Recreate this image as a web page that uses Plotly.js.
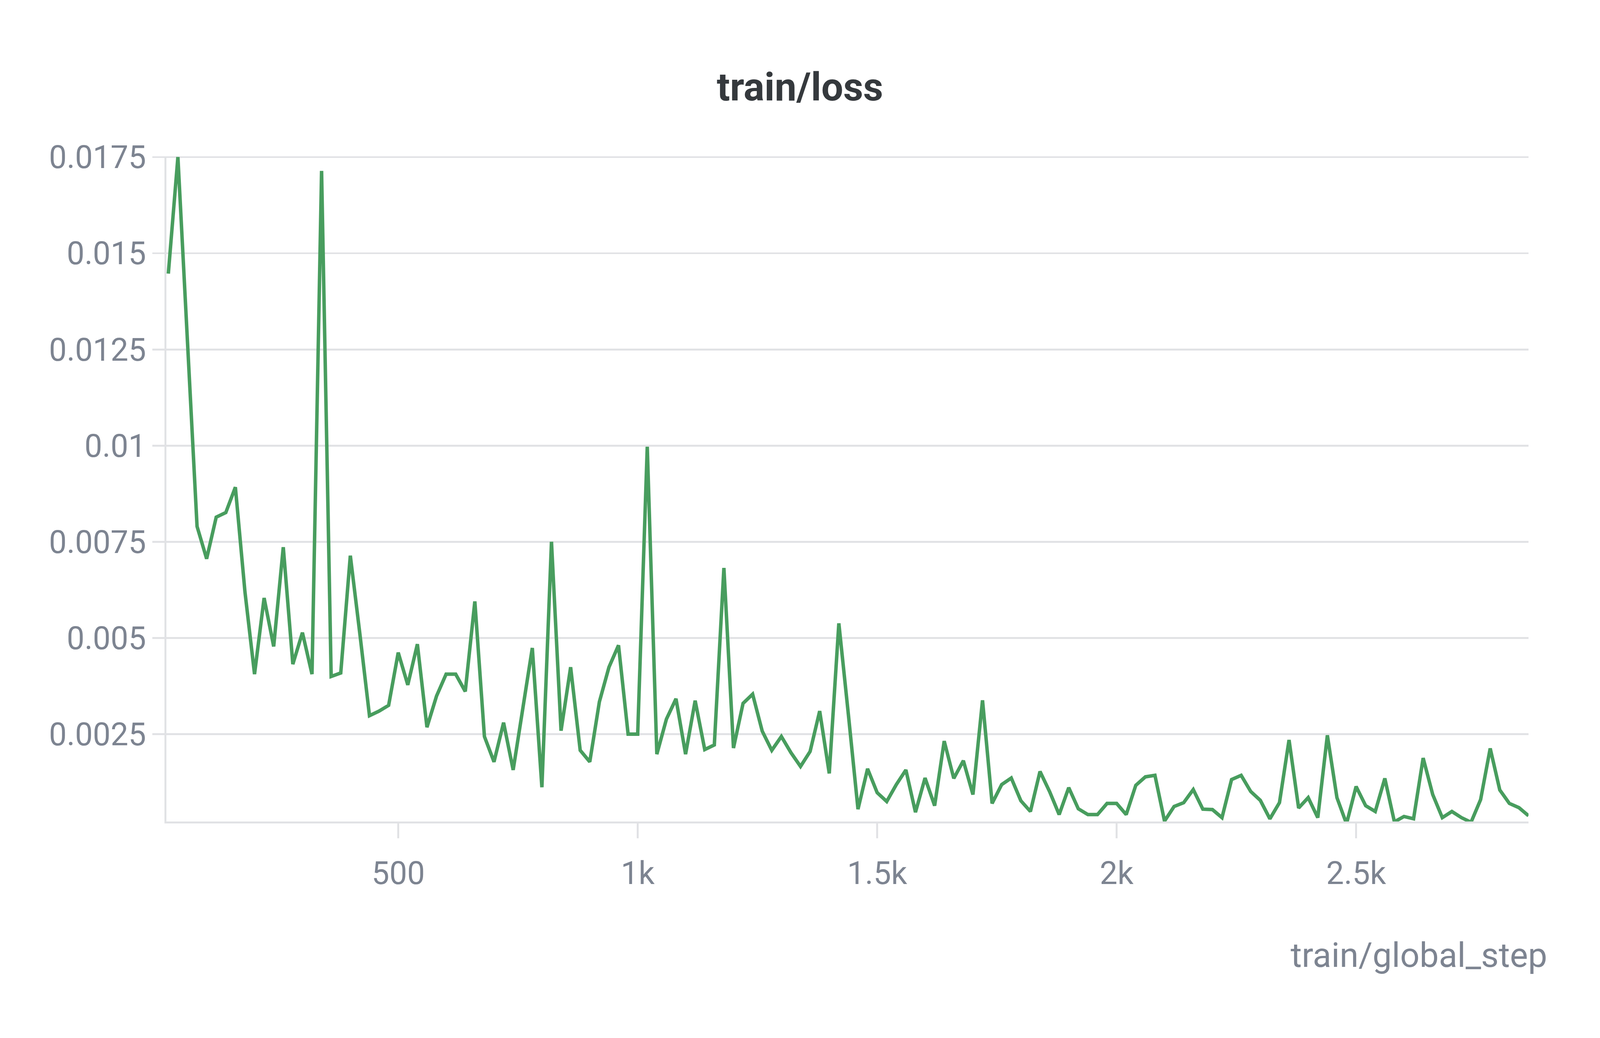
<!DOCTYPE html>
<html>
<head>
<meta charset="utf-8">
<script src="https://cdn.plot.ly/plotly-3.0.1.min.js"></script>
<style>
	html, body { margin: 0; padding: 0; background: #ffffff; overflow: hidden; }
</style>
</head>
<body>
<div id="loss-plot"></div>
<script>
// train/loss logged every 20 steps
var steps = [
	20, 40, 60, 80, 100, 120, 140, 160, 180, 200,
	220, 240, 260, 280, 300, 320, 340, 360, 380, 400,
	420, 440, 460, 480, 500, 520, 540, 560, 580, 600,
	620, 640, 660, 680, 700, 720, 740, 760, 780, 800,
	820, 840, 860, 880, 900, 920, 940, 960, 980, 1000,
	1020, 1040, 1060, 1080, 1100, 1120, 1140, 1160, 1180, 1200,
	1220, 1240, 1260, 1280, 1300, 1320, 1340, 1360, 1380, 1400,
	1420, 1440, 1460, 1480, 1500, 1520, 1540, 1560, 1580, 1600,
	1620, 1640, 1660, 1680, 1700, 1720, 1740, 1760, 1780, 1800,
	1820, 1840, 1860, 1880, 1900, 1920, 1940, 1960, 1980, 2000,
	2020, 2040, 2060, 2080, 2100, 2120, 2140, 2160, 2180, 2200,
	2220, 2240, 2260, 2280, 2300, 2320, 2340, 2360, 2380, 2400,
	2420, 2440, 2460, 2480, 2500, 2520, 2540, 2560, 2580, 2600,
	2620, 2640, 2660, 2680, 2700, 2720, 2740, 2760, 2780, 2800,
	2820, 2840, 2860
];

var loss = [
	0.01447, 0.0175, 0.0127, 0.0079, 0.00706, 0.00814, 0.00826, 0.00892, 0.0062, 0.00406,
	0.00604, 0.00478, 0.00736, 0.00432, 0.00514, 0.00406, 0.01714, 0.004, 0.00409, 0.00714,
	0.0051, 0.00298, 0.0031, 0.00325, 0.00462, 0.00378, 0.00484, 0.00268, 0.00349, 0.00406,
	0.00406, 0.00361, 0.00595, 0.00244, 0.00178, 0.0028, 0.00157, 0.0032, 0.00474, 0.00112,
	0.0075, 0.00259, 0.00424, 0.00208, 0.00178, 0.00334, 0.00424, 0.00481, 0.0025, 0.0025,
	0.00997, 0.00198, 0.00289, 0.00342, 0.00198, 0.00337, 0.0021, 0.00222, 0.00682, 0.00214,
	0.0033, 0.00354, 0.00258, 0.00208, 0.00244, 0.00202, 0.00166, 0.00205, 0.0031, 0.00148,
	0.00538, 0.003, 0.00055, 0.0016, 0.00098, 0.00075, 0.00119, 0.00157, 0.00047, 0.00136,
	0.00064, 0.00232, 0.00135, 0.00181, 0.00093, 0.00338, 0.0007, 0.00119, 0.00136, 0.00077,
	0.00049, 0.00153, 0.00101, 0.00041, 0.00111, 0.00056, 0.00041, 0.00041, 0.0007, 0.0007,
	0.00041, 0.00117, 0.00139, 0.00143, 0.00024, 0.00062, 0.00072, 0.00106, 0.00055, 0.00054,
	0.00033, 0.00132, 0.00143, 0.00101, 0.00078, 0.0003, 0.00072, 0.00235, 0.00058, 0.00085,
	0.00033, 0.00247, 0.00085, 0.00017, 0.00114, 0.00064, 0.00049, 0.00135, 0.00022, 0.00036,
	0.0003, 0.00188, 0.00093, 0.00033, 0.00049, 0.00033, 0.00021, 0.0008, 0.00213, 0.00105,
	0.0007, 0.00059, 0.00038
];

var x_tick_vals = [500, 1000, 1500, 2000, 2500];
var x_tick_text = ["500", "1k", "1.5k", "2k", "2.5k"];
var y_tick_vals = [0.0025, 0.005, 0.0075, 0.01, 0.0125, 0.015, 0.0175];
var y_tick_text = ["0.0025", "0.005", "0.0075", "0.01", "0.0125", "0.015", "0.0175"];

var chart_title = "train/loss";
var x_title = "train/global_step";

const grid_color = "#e1e2e5";
const label_color = "#7d8491";
const font_family = "Roboto, 'Noto Sans', sans-serif";

// the page may be shown with a device pixel ratio, so size everything
// from the real viewport instead of the 5056x2656 it was laid out for
const ref_width = 5056;
const ref_height = 2656;

function make_loss_plot()
{
	var w = window.innerWidth;
	var h = window.innerHeight;
	var kx = w / ref_width;
	var ky = h / ref_height;
	var k = Math.min(kx, ky);

	var div = document.getElementById("loss-plot");
	div.style.width = w + "px";
	div.style.height = h + "px";

	var trace =
	{
		type: "scatter",
		mode: "lines",
		x: steps,
		y: loss,
		line: {
			color: "#489d5e",
			width: 11 * k
		},
		hoverinfo: "skip"
	};

	var layout =
	{
		width: w,
		height: h,
		paper_bgcolor: "#ffffff",
		plot_bgcolor: "#ffffff",
		showlegend: false,
		margin: {
			l: 526 * kx,
			r: 226 * kx,
			t: 400 * ky,
			b: 554 * ky,
			pad: 0,
			autoexpand: false
		},
		font: {family: font_family, color: label_color, size: 100 * k},
		title: {
			text: "<b>" + chart_title + "</b>",
			x: 0.5,
			xanchor: "center",
			xref: "container",
			y: 0.9164,
			yref: "container",
			yanchor: "middle",
			font: {family: font_family, size: 123 * k, color: "#35393d"}
		},
		xaxis: {
			range: [16, 2860],
			showgrid: false,
			zeroline: false,
			showline: true,
			linecolor: grid_color,
			linewidth: 6 * k,
			ticks: "outside",
			ticklen: 38 * ky,
			tickwidth: 6 * k,
			tickcolor: grid_color,
			tickmode: "array",
			tickvals: x_tick_vals,
			ticktext: x_tick_text,
			ticklabelstandoff: 20 * ky,
			tickfont: {family: font_family, size: 100 * k, color: label_color}
		},
		yaxis: {
			range: [0.00023, 0.01752],
			showgrid: true,
			gridcolor: grid_color,
			gridwidth: 6 * k,
			zeroline: false,
			showline: true,
			linecolor: grid_color,
			linewidth: 6 * k,
			ticks: "outside",
			ticklen: 38 * kx,
			tickwidth: 6 * k,
			tickcolor: grid_color,
			tickmode: "array",
			tickvals: y_tick_vals,
			ticktext: y_tick_text,
			ticklabelstandoff: 48 * kx,
			tickfont: {family: font_family, size: 100 * k, color: label_color}
		},
		annotations: [{
			text: x_title,
			xref: "paper",
			yref: "paper",
			x: 1.0144,
			xanchor: "right",
			y: -0.2009,
			yanchor: "middle",
			showarrow: false,
			font: {family: font_family, size: 108 * k, color: label_color}
		}]
	};

	Plotly.newPlot("loss-plot", [trace], layout, {displayModeBar: false, staticPlot: true});
}

make_loss_plot();
</script>
</body>
</html>
